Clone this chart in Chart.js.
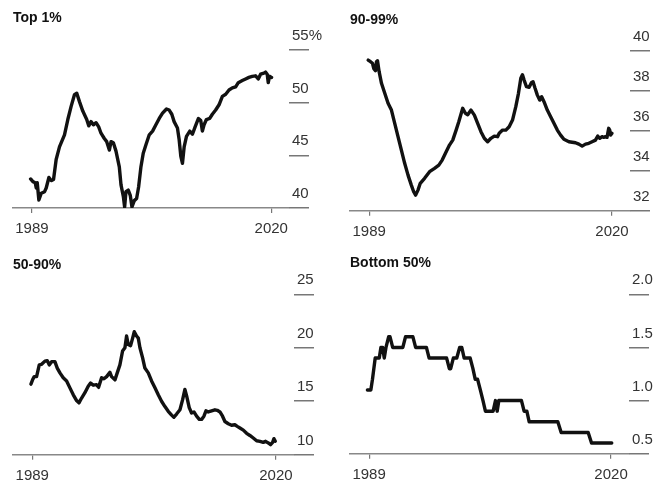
<!DOCTYPE html>
<html><head><meta charset="utf-8">
<script src="https://cdn.jsdelivr.net/npm/chart.js@4.4.1/dist/chart.umd.min.js"></script>
<style>
html,body{margin:0;padding:0;background:#fff;overflow:hidden;}
canvas{position:absolute;display:block;}
</style></head><body>
<canvas id="c1" width="333" height="242" style="left:0;top:0;width:333px;height:242px"></canvas>
<canvas id="c2" width="334" height="242" style="left:333px;top:0;width:334px;height:242px"></canvas>
<canvas id="c3" width="333" height="243" style="left:0;top:242px;width:333px;height:243px"></canvas>
<canvas id="c4" width="334" height="243" style="left:333px;top:242px;width:334px;height:243px"></canvas>
<script>
// ---- Data (shares of wealth, %) ----
const titles = ["Top 1%", "90-99%", "50-90%", "Bottom 50%"];
const xTickYears = [1989, 2020];

const top1Years = [1988.83,1989.13,1989.43,1989.56,1989.69,1989.90,1990.21,1990.64,1990.85,1991.20,1991.50,1991.80,1992.14,1992.57,1993.22,1993.65,1994.08,1994.51,1994.81,1995.16,1995.59,1996.10,1996.36,1996.66,1996.96,1997.31,1997.65,1997.95,1998.38,1998.69,1999.03,1999.25,1999.55,1999.89,2000.32,2000.54,2000.84,2001.01,2001.18,2001.48,2001.74,2001.96,2002.26,2002.56,2002.82,2003.12,2003.42,2003.77,2004.20,2004.63,2005.06,2005.49,2005.92,2006.43,2006.78,2007.12,2007.42,2007.85,2008.07,2008.29,2008.50,2008.72,2009.02,2009.45,2009.79,2010.14,2010.57,2010.87,2011.08,2011.30,2011.60,2012.03,2012.37,2012.80,2013.24,2013.67,2014.10,2014.53,2014.96,2015.39,2015.73,2016.25,2016.68,2017.11,2017.54,2017.97,2018.32,2018.62,2019.05,2019.26,2019.48,2019.61,2019.78,2020.04];
const top1Values = [42.76,42.5,42.4,41.9,42.4,40.76,41.4,41.55,41.9,42.9,42.6,42.7,44.6,45.8,46.95,48.4,49.65,50.76,50.9,50.1,49.2,48.4,47.8,48.2,47.9,48.1,47.7,47.1,46.6,46.3,45.5,46.3,46.2,45.4,43.9,42.2,41.1,40.1,41.55,41.7,41.2,40.1,40.7,40.9,42.0,43.9,45.2,46.0,46.95,47.3,47.9,48.5,49.0,49.4,49.3,48.9,48.2,47.6,46.5,44.9,44.25,45.8,46.8,47.3,47.0,47.7,48.5,48.3,47.3,47.9,48.4,48.5,48.9,49.3,49.8,50.6,50.8,51.2,51.4,51.5,51.9,52.1,52.25,52.4,52.5,52.55,52.25,52.7,52.8,52.9,52.7,51.9,52.5,52.4];

const p9099Years = [1988.87,1989.17,1989.42,1989.59,1989.80,1989.93,1990.06,1990.27,1990.57,1990.99,1991.41,1991.84,1992.26,1992.68,1993.11,1993.53,1993.96,1994.38,1994.68,1994.93,1995.23,1995.52,1996.07,1996.71,1997.34,1997.89,1998.32,1998.83,1999.25,1999.67,2000.10,2000.44,2000.94,2001.28,2001.58,2002.00,2002.43,2002.85,2003.27,2003.70,2004.12,2004.54,2004.97,2005.39,2005.60,2006.03,2006.45,2006.87,2007.30,2007.72,2008.06,2008.36,2008.57,2008.78,2009.08,2009.42,2009.71,2009.92,2010.18,2010.47,2010.77,2011.02,2011.32,2011.74,2012.17,2012.59,2013.02,2013.44,2013.86,2014.50,2015.34,2015.77,2016.19,2016.62,2017.04,2017.46,2017.89,2018.18,2018.44,2018.73,2018.95,2019.16,2019.37,2019.58,2019.71,2019.83,2020.00];
const p9099Values = [39.53,39.45,39.37,39.1,39.0,39.45,39.5,38.95,38.37,37.87,37.37,37.03,36.37,35.7,35.03,34.37,33.78,33.28,32.95,32.78,33.03,33.37,33.62,33.95,34.12,34.28,34.53,34.95,35.28,35.53,36.03,36.45,37.12,36.87,36.8,37.03,36.78,36.37,35.95,35.62,35.45,35.62,35.73,35.7,35.87,36.03,36.03,36.2,36.53,37.2,37.87,38.62,38.8,38.53,38.2,38.17,38.4,38.45,38.12,37.78,37.53,37.7,37.45,37.03,36.7,36.37,36.03,35.78,35.57,35.45,35.4,35.33,35.23,35.33,35.37,35.45,35.53,35.73,35.62,35.7,35.67,35.7,35.67,36.12,36.03,35.78,35.87];

const p5090Years = [1988.83,1989.04,1989.25,1989.55,1989.89,1990.19,1990.61,1990.91,1991.16,1991.46,1991.88,1992.18,1992.52,1992.94,1993.37,1993.79,1994.22,1994.64,1994.94,1995.28,1995.70,1996.12,1996.42,1996.76,1997.18,1997.44,1997.82,1998.12,1998.46,1998.88,1999.09,1999.52,1999.81,2000.15,2000.49,2000.79,2001.00,2001.21,2001.51,2001.77,2001.98,2002.27,2002.49,2002.70,2003.04,2003.33,2003.76,2004.18,2004.61,2005.03,2005.45,2005.88,2006.30,2006.73,2007.02,2007.36,2007.79,2008.13,2008.42,2008.64,2008.97,2009.27,2009.57,2009.91,2010.25,2010.54,2010.84,2011.10,2011.39,2011.82,2012.24,2012.54,2012.88,2013.21,2013.51,2013.94,2014.36,2014.78,2015.08,2015.42,2015.85,2016.27,2016.69,2017.12,2017.54,2017.97,2018.39,2018.69,2019.03,2019.32,2019.58,2019.75,2019.92];
const p5090Values = [16.6,17.0,17.3,17.3,18.4,18.45,18.75,18.8,18.4,18.7,18.7,18.1,17.65,17.2,16.9,16.25,15.6,15.06,14.85,15.3,15.8,16.4,16.7,16.5,16.55,16.3,17.2,17.1,17.3,17.7,17.3,17.0,17.65,18.4,19.7,20.0,21.1,20.3,20.2,20.9,21.5,21.1,20.9,20.0,19.06,18.1,17.65,16.9,16.25,15.6,15.0,14.5,14.06,13.7,13.5,13.8,14.2,15.15,16.1,15.5,14.4,13.9,14.0,13.6,13.3,13.3,13.6,14.1,14.0,14.1,14.2,14.15,14.0,13.6,13.1,12.9,12.75,12.8,12.65,12.5,12.3,12.0,11.8,11.56,11.3,11.25,11.15,11.25,11.1,10.94,11.15,11.5,11.25];

const bottom50Years = [1988.78,1989.22,1989.43,1989.78,1990.30,1990.51,1990.73,1990.94,1991.16,1991.50,1991.68,1992.02,1993.32,1993.66,1994.61,1994.96,1996.34,1996.69,1998.93,1999.28,1999.45,1999.79,2000.23,2000.60,2000.87,2001.18,2001.95,2002.30,2002.60,2002.90,2003.25,2003.59,2003.90,2004.89,2005.19,2005.41,2005.62,2008.52,2008.86,2009.21,2009.51,2013.18,2013.61,2017.07,2017.50,2020.09];
const bottom50Values = [1.1,1.1,1.2,1.4,1.4,1.5,1.5,1.4,1.5,1.6,1.6,1.5,1.5,1.6,1.6,1.5,1.5,1.4,1.4,1.3,1.3,1.4,1.4,1.5,1.5,1.4,1.4,1.3,1.2,1.2,1.1,1.0,0.9,0.9,1.0,0.9,1.0,1.0,0.9,0.9,0.8,0.8,0.7,0.7,0.6,0.6];

const top1Ticks = [40, 45, 50, 55];
const p9099Ticks = [32, 34, 36, 38, 40];
const p5090Ticks = [10, 15, 20, 25];
const bottom50Ticks = [0.5, 1.0, 1.5, 2.0];

// ---- Chart construction ----
Chart.defaults.font.family = "'Liberation Sans', Arial, sans-serif";

function makeChart(id, title, years, values, yTicks, fmt, lay) {
  const ctx = document.getElementById(id);
  const W = ctx.width, H = ctx.height;
  const pts = years.map((x, i) => ({x: x, y: values[i]}));
  return new Chart(ctx, {
    type: 'line',
    data: { datasets: [{
      data: pts,
      borderColor: '#111',
      borderWidth: 3.4,
      pointRadius: 0,
      tension: 0,
      borderJoinStyle: 'round',
      borderCapStyle: 'round',
      fill: false
    }]},
    options: {
      responsive: false,
      animation: false,
      devicePixelRatio: 1,
      layout: { padding: { left: lay.left, right: 0, top: 0, bottom: 0 } },
      plugins: {
        legend: { display: false },
        tooltip: { enabled: false },
        title: {
          display: true, text: title, align: 'start', color: '#111',
          font: { size: 14, weight: 'bold' },
          padding: { top: lay.tTop, bottom: lay.chartTop - lay.tTop - 16.8 }
        }
      },
      scales: {
        x: {
          type: 'linear', min: 1986.55, max: 2022.3,
          afterBuildTicks: s => { s.ticks = xTickYears.map(v => ({value: v})); },
          afterFit: s => { s.height = H - lay.chartBottom; },
          grid: { display: true, drawOnChartArea: false, drawTicks: true, tickLength: 5, color: '#777', lineWidth: 1.2 },
          border: { display: true, color: '#888', width: 1.5 },
          ticks: { autoSkip: false, maxRotation: 0, padding: 7, color: '#333', font: { size: 15 },
                   callback: v => String(v) }
        },
        y: {
          position: 'right', min: yTicks[0], max: yTicks[yTicks.length - 1],
          afterBuildTicks: s => { s.ticks = yTicks.map(v => ({value: v})); },
          afterFit: s => { s.width = W - lay.right; },
          grid: { display: true, drawOnChartArea: false, drawTicks: true, tickLength: 20, color: '#777', lineWidth: 1.5 },
          border: { display: false },
          ticks: { padding: -17, labelOffset: -14, color: '#333', font: { size: 15 }, callback: fmt }
        }
      }
    }
  });
}

makeChart('c1', titles[0], top1Years, top1Values, top1Ticks,
  (v, i, arr) => (i === arr.length - 1 ? v + '%' : String(v)),
  { left: 13, right: 289, tTop: 10, chartTop: 50, chartBottom: 208 });
makeChart('c2', titles[1], p9099Years, p9099Values, p9099Ticks,
  v => String(v),
  { left: 17, right: 297, tTop: 11.5, chartTop: 50.7, chartBottom: 210.7 });
makeChart('c3', titles[2], p5090Years, p5090Values, p5090Ticks,
  v => String(v),
  { left: 13, right: 294, tTop: 14.5, chartTop: 52.3, chartBottom: 212.7 });
makeChart('c4', titles[3], bottom50Years, bottom50Values, bottom50Ticks,
  v => v.toFixed(1),
  { left: 17, right: 296, tTop: 12.5, chartTop: 52.3, chartBottom: 211.7 });
</script>
</body></html>
